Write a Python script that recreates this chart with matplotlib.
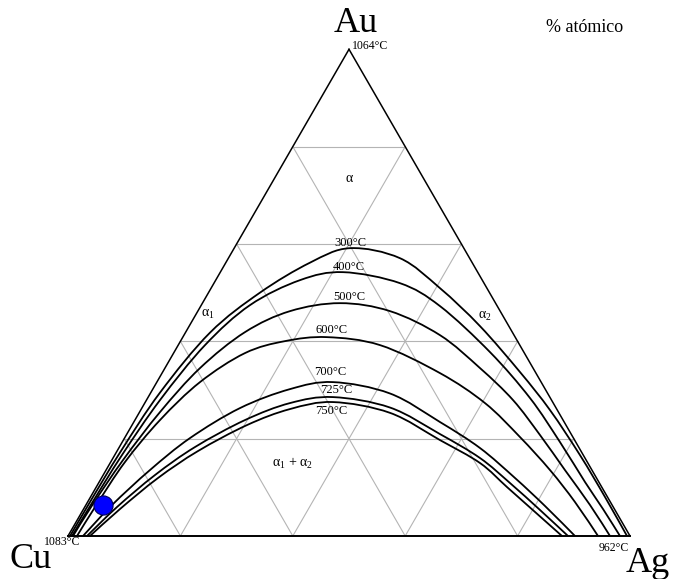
import numpy as np
import matplotlib
matplotlib.use("Agg")
import matplotlib.pyplot as plt
from matplotlib.path import Path
from matplotlib.patches import PathPatch

plt.rcParams['font.family'] = ['Liberation Serif', 'DejaVu Serif']
plt.rcParams['mathtext.fontset'] = 'custom'
plt.rcParams['mathtext.rm'] = 'Liberation Serif'
plt.rcParams['mathtext.it'] = 'Liberation Serif'

# ---- data: isotherms of the miscibility gap (at.% Au, at.% Ag) ----
temps = ["300°C", "400°C", "500°C", "600°C", "700°C", "725°C", "750°C"]

au_300 = [0, 6.98, 17.15, 29.47, 41.79, 50.0, 56.16, 59.14, 57.08, 50.92, 43.12, 33.68, 25.87, 16.63, 8.01, 0]
ag_300 = [0.36, 0.42, 0.68, 1.64, 4.38, 9.16, 14.98, 20.61, 30.53, 40.73, 51.75, 63.59, 72.83, 82.78, 91.55, 99.47]
au_400 = [0, 6.78, 16.63, 27.93, 39.22, 47.43, 52.57, 54.21, 51.95, 47.23, 37.78, 28.34, 19.30, 11.09, 5.54, 0]
ag_400 = [0.71, 0.88, 1.29, 2.41, 4.77, 8.66, 15.0, 21.83, 33.09, 42.58, 56.2, 68.04, 77.89, 86.45, 92.43, 98.22]
au_500 = [0, 6.57, 15.61, 25.46, 34.50, 41.89, 46.20, 47.84, 46.20, 41.27, 34.50, 27.93, 20.74, 13.55, 6.37, 0]
ag_500 = [0.89, 1.16, 1.99, 3.64, 6.24, 10.55, 16.4, 24.48, 34.2, 45.55, 56.06, 65.22, 73.62, 81.65, 89.7, 96.44]
au_600 = [0, 6.57, 15.20, 23.82, 31.62, 37.58, 40.04, 40.86, 39.22, 33.47, 27.31, 20.33, 13.55, 6.98, 0]
ag_600 = [1.60, 1.87, 2.54, 4.46, 7.68, 12.7, 18.59, 25.66, 35.91, 49.45, 60.54, 70.26, 78.99, 86.72, 94.31]
au_700 = [0, 6.37, 13.55, 20.12, 26.28, 30.18, 31.62, 29.28, 23.41, 18.07, 11.91, 6.16, 0]
ag_700 = [2.67, 4.65, 7.81, 11.65, 17.46, 24.41, 31.34, 42.66, 54.49, 64.28, 73.59, 81.8, 90.21]
au_725 = [0, 5.95, 12.53, 18.28, 23.82, 27.31, 28.54, 26.39, 20.94, 16.02, 10.88, 5.34, 0]
ag_725 = [3.38, 5.74, 9.22, 13.46, 19.58, 25.84, 32.88, 44.11, 55.72, 65.3, 73.21, 81.32, 88.97]
au_750 = [0, 5.54, 11.91, 17.45, 22.79, 26.08, 27.52, 25.30, 19.71, 14.99, 10.06, 4.93, 0]
ag_750 = [3.91, 6.48, 10.05, 14.4, 20.45, 26.46, 33.39, 44.65, 56.33, 65.82, 73.08, 80.64, 87.90]

curves_au = [au_300, au_400, au_500, au_600, au_700, au_725, au_750]
curves_ag = [ag_300, ag_400, ag_500, ag_600, ag_700, ag_725, ag_750]

# sample point (blue dot)
dot_au = [6.4]
dot_ag = [3.0]

grid_levels = [20, 40, 60, 80]

corner_names = ["Cu", "Ag", "Au"]
melting = ["1083°C", "962°C", "1064°C"]

H = np.sqrt(3) / 2


def tern(au, ag):
    au = np.asarray(au, float) / 100.0
    ag = np.asarray(ag, float) / 100.0
    return ag + au / 2.0, au * H


def smooth_path(x, y):
    pts = np.column_stack([x, y])
    n = len(pts)
    verts = [pts[0]]
    codes = [Path.MOVETO]
    for i in range(n - 1):
        p0 = pts[i - 1] if i > 0 else pts[i]
        p1 = pts[i]
        p2 = pts[i + 1]
        p3 = pts[i + 2] if i + 2 < n else pts[i + 1]
        c1 = p1 + (p2 - p0) / 6.0
        c2 = p2 - (p3 - p1) / 6.0
        verts += [c1, c2, p2]
        codes += [Path.CURVE4] * 3
    return Path(verts, codes)


W, Hpx = 673, 579
fig = plt.figure(figsize=(W / 100, Hpx / 100), dpi=100)
ax = fig.add_axes([0, 0, 1, 1])
scale = 562.0
x0, y0 = 68.0, 536.0
ax.set_xlim(-x0 / scale, (W - x0) / scale)
ax.set_ylim(-(Hpx - y0) / scale, y0 / scale)
ax.axis("off")

# grid
gcol = "#b4b4b4"
for g in grid_levels:
    xa, ya = tern([g, g], [0, 100 - g])
    ax.plot(xa, ya, color=gcol, lw=0.8, zorder=1)
    xb, yb = tern([0, 100 - g], [g, g])
    ax.plot(xb, yb, color=gcol, lw=0.8, zorder=1)
    xc, yc = tern([0, 100 - g], [100 - g, 0])
    ax.plot(xc, yc, color=gcol, lw=0.8, zorder=1)

# triangle
tx, ty = tern([0, 0, 100, 0], [0, 100, 0, 0])
ax.plot(tx[:2], ty[:2], color="black", lw=1.4, zorder=3)
ax.plot(tx[1:3], ty[1:3], color="black", lw=1.1, zorder=3)
ax.plot(tx[2:4], ty[2:4], color="black", lw=1.1, zorder=3)

# isotherms
for au, ag in zip(curves_au, curves_ag):
    cx, cy = tern(au, ag)
    ax.add_patch(PathPatch(smooth_path(cx, cy), fill=False, ec="black", lw=1.3, zorder=4))

# dot
dx, dy = tern(dot_au, dot_ag)
ax.scatter(dx, dy, s=190, color="#0000ff", edgecolors="#00005a", linewidths=0.8, zorder=6)


def fx(px):
    return px / W


def fy(py):
    return 1 - py / Hpx


tr = ax.transAxes
ax.text(fx(356), fy(23), corner_names[2], transform=tr, fontsize=26, ha="center", va="center")
ax.text(fx(352), fy(46), melting[2], transform=tr, fontsize=8.5, ha="left", va="center")
ax.text(fx(31), fy(560), corner_names[0], transform=tr, fontsize=26, ha="center", va="center")
ax.text(fx(44), fy(542), melting[0], transform=tr, fontsize=8.5, ha="left", va="center")
ax.text(fx(648), fy(563), corner_names[1], transform=tr, fontsize=26, ha="center", va="center")
ax.text(fx(629), fy(548), melting[1], transform=tr, fontsize=8.5, ha="right", va="center")
ax.text(fx(585), fy(28), "% atómico", transform=tr, fontsize=13, ha="center", va="center")

ax.text(fx(349), fy(178), "α", transform=tr, fontsize=10, ha="center", va="center")
ax.text(fx(208), fy(314), "α$_1$", transform=tr, fontsize=10, ha="center", va="center")
ax.text(fx(485), fy(316), "α$_2$", transform=tr, fontsize=10, ha="center", va="center")
ax.text(fx(292), fy(463), "α$_1$ + α$_2$", transform=tr, fontsize=10, ha="center", va="center")

lab_pos = [(350, 243), (349, 267), (349, 297), (332, 330), (330, 372), (336, 390), (331, 411)]
for t, (px, py) in zip(temps, lab_pos):
    ax.text(fx(px), fy(py), t, transform=tr, fontsize=9, ha="center", va="center")

fig.savefig("out.png", dpi=100, facecolor="white")
